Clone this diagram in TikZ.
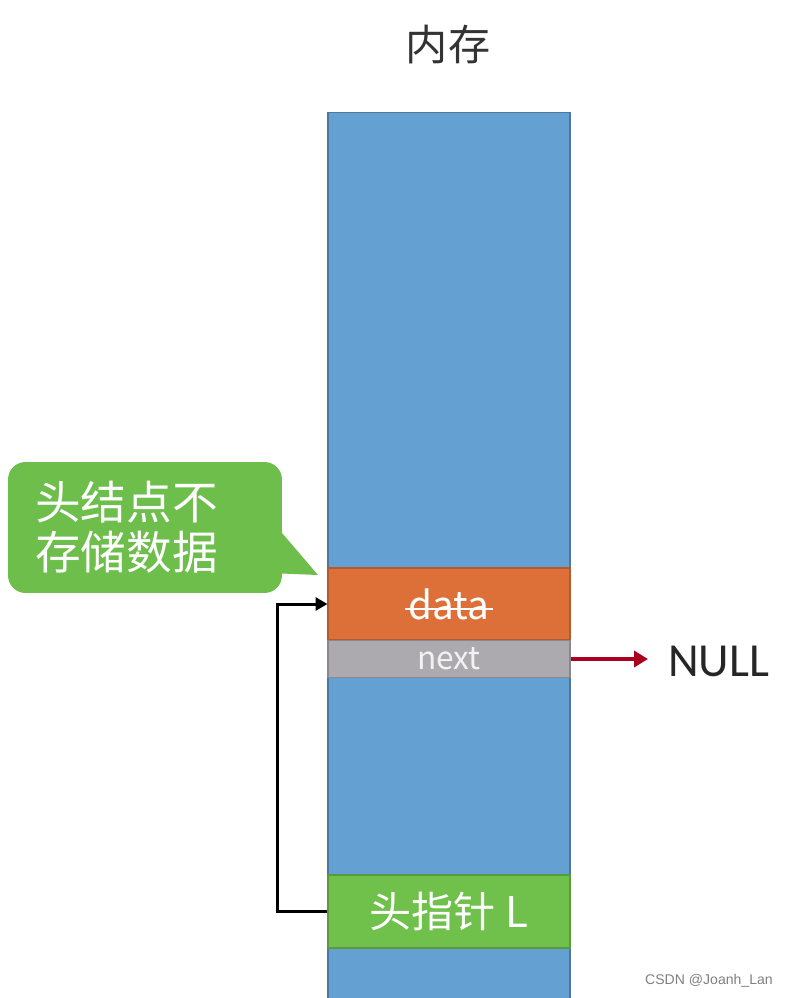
\documentclass[tikz,border=0pt]{standalone}
\usepackage{fontspec}
\setmainfont{Carlito}
\newfontfamily\cjk{Noto Sans CJK SC}
\newfontfamily\wmfont{Liberation Sans}
\newsavebox{\strikebox}
\newcommand{\strikeword}[1]{\sbox{\strikebox}{#1}\rlap{\kern-2pt\raisebox{0.42ex}{\rule{\dimexpr\wd\strikebox+4pt\relax}{1.6pt}}}\usebox{\strikebox}}
\usetikzlibrary{arrows.meta, positioning}
\definecolor{memblue}{HTML}{64A0D2}
\definecolor{dataorange}{HTML}{DD7038}
\definecolor{nextgray}{HTML}{ACAAAF}
\definecolor{headgreen}{HTML}{70C04C}
\definecolor{notegreen}{HTML}{6DBE4B}
\definecolor{nullred}{HTML}{A8001E}
\tikzset{
  memory/.style={
    rectangle,
    draw=memblue!75!black,
    fill=memblue,
    line width=0.7pt,
    minimum width=4.84cm,
    minimum height=18.0cm,
    inner sep=0pt
  },
  band/.style={
    rectangle,
    draw=#1!80!black,
    fill=#1,
    line width=0.6pt,
    minimum width=4.84cm,
    inner sep=0pt,
    text=white
  },
  note/.style={
    rectangle,
    rounded corners=0.35cm,
    fill=notegreen,
    text=white,
    align=left,
    text width=4.4cm,
    minimum width=5.48cm,
    minimum height=2.62cm,
    inner xsep=0.54cm,
    inner ysep=0pt,
    font=\cjk\fontsize{26}{28.5}\selectfont
  },
  label/.style={font=\fontsize{27}{30}\selectfont, text=black!85, inner xsep=0.4cm},
  arrow/.style={-{Triangle[length=2.4mm, width=2.6mm]}, line width=1.7pt},
  redarrow/.style={-{Triangle[length=2.8mm, width=3.2mm]}, line width=2.2pt, draw=nullred}
}
\begin{document}
\begin{tikzpicture}[x=0.02cm, y=-0.02cm]
  \useasboundingbox (0,0) rectangle (787,998);

  \node[font=\cjk\fontsize{24}{28}\selectfont, text=black!80] (title) at (448,45) {内存};

  \node[memory, anchor=north] (mem) at (449,112) {};
  \node[band=dataorange, minimum height=1.44cm, font=\cjk\fontsize{22}{26}\selectfont] (data) at (449,604) {\strikeword{data}};
  \node[band=nextgray, minimum height=0.74cm, font=\cjk\fontsize{18}{22}\selectfont, text=white!95!black] (next) at (449,659) {next};
  \node[band=headgreen, minimum height=1.46cm, font=\cjk\fontsize{24}{28}\selectfont] (head) at (449,911.5) {头指针 L};

  % callout
  \node[note] (hint) at (145,527.5) {头结点不\\存储数据};
  \coordinate (tip) at (318,575);
  \fill[notegreen] ([xshift=-0.1cm]hint.east) -- (tip) -- ([xshift=-0.1cm, yshift=0.4cm]hint.south east) -- cycle;

  \node[label, anchor=west] (null) at (648,661) {NULL};

  \draw[arrow] (head.west) -- ++(-50,0) |- (data.west);
  \draw[redarrow] (next.east) -- (next.east -| null.west);

  \node[font=\wmfont\fontsize{8}{10}\selectfont, text=black!50] (mark) at (709,981) {CSDN @Joanh\_Lan};
\end{tikzpicture}
\end{document}
